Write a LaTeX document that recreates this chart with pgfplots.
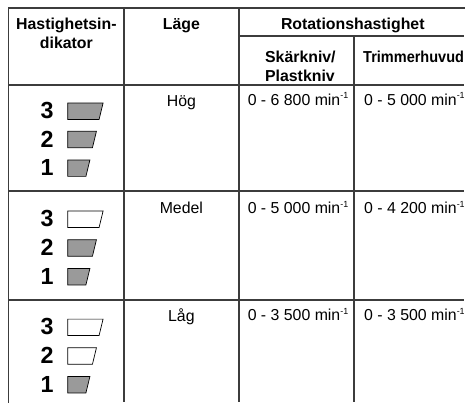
\documentclass[border=0pt]{standalone}
\usepackage{fontspec}
\setmainfont{Liberation Sans}
\usepackage{graphicx}
\usepackage{pgfplots}
\pgfplotsset{compat=1.18}
\definecolor{rule}{HTML}{3C3C3C}
\definecolor{ind}{HTML}{9A9A9A}
\definecolor{txt}{HTML}{1E1E1E}
\newcommand{\tf}{\fontsize{16}{18}\selectfont}
\newcommand{\df}{\fontsize{23.5}{26}\selectfont\bfseries}
\newcommand{\mn}{min\raisebox{6.2pt}{\fontsize{9}{10}\selectfont -1}}
\begin{document}
\begin{tikzpicture}
\begin{axis}[
  width=468pt, height=406pt, scale only axis,
  xmin=0, xmax=468, ymin=0, ymax=406, y dir=reverse,
  hide axis, clip=false,
  every node/.style={text=txt, inner sep=0pt, outer sep=0pt},
]
% background
\addplot[draw=none, fill=white] coordinates {(0,0) (468,0) (468,406) (0,406)} --cycle;
% table rules
\addplot[rule, line width=1.7pt, line cap=rect] coordinates {(8.7,8) (468,8)};
\addplot[rule, line width=1.7pt] coordinates {(241,36) (468,36)};
\addplot[rule, line width=1.7pt] coordinates {(8.7,85.5) (468,85.5)};
\addplot[rule, line width=1.7pt] coordinates {(8.7,193) (468,193)};
\addplot[rule, line width=1.7pt] coordinates {(8.7,303) (468,303)};
\addplot[rule, line width=1.7pt, line cap=rect] coordinates {(8.7,8) (8.7,406)};
\addplot[rule, line width=1.7pt] coordinates {(125,8) (125,406)};
\addplot[rule, line width=1.7pt] coordinates {(241,8) (241,406)};
\addplot[rule, line width=1.7pt] coordinates {(357,36) (357,406)};
% header text
\node[anchor=base, font=\tf\bfseries] at (axis cs:67,30) {Hastighetsin-};
\node[anchor=base, font=\tf\bfseries] at (axis cs:67,49) {dikator};
\node[anchor=base, font=\tf\bfseries] at (axis cs:183,30) {Läge};
\node[anchor=base, font=\tf\bfseries] at (axis cs:356,29.5) {Rotationshastighet};
\node[anchor=base west, font=\tf\bfseries] at (axis cs:264,63.5) {Skärkniv/};
\node[anchor=base west, font=\tf\bfseries] at (axis cs:264,82) {Plastkniv};
\node[anchor=base west, font=\tf\bfseries] at (axis cs:363,63.5) {\scalebox{0.915}[1]{Trimmerhuvud}};
% mode
\node[anchor=base, font=\tf] at (axis cs:183,107) {Hög};
\node[anchor=base, font=\tf] at (axis cs:183,215.5) {Medel};
\node[anchor=base, font=\tf] at (axis cs:183,324.5) {Låg};
% values
\node[anchor=base west, font=\tf] at (axis cs:246.5,106) {0 - 6 800 \mn};
\node[anchor=base west, font=\tf] at (axis cs:364,106) {0 - 5 000 \mn};
\node[anchor=base west, font=\tf] at (axis cs:246.5,215.5) {0 - 5 000 \mn};
\node[anchor=base west, font=\tf] at (axis cs:364,215.5) {0 - 4 200 \mn};
\node[anchor=base west, font=\tf] at (axis cs:246.5,323.5) {0 - 3 500 \mn};
\node[anchor=base west, font=\tf] at (axis cs:364,323.5) {0 - 3 500 \mn};
% digits
\node[anchor=base, font=\df] at (axis cs:47.5,120) {3};
\node[anchor=base, font=\df] at (axis cs:47.5,148.5) {2};
\node[anchor=base, font=\df] at (axis cs:47.5,177.5) {1};
\node[anchor=base, font=\df] at (axis cs:47.5,229) {3};
\node[anchor=base, font=\df] at (axis cs:47.5,258) {2};
\node[anchor=base, font=\df] at (axis cs:47.5,287) {1};
\node[anchor=base, font=\df] at (axis cs:47.5,338) {3};
\node[anchor=base, font=\df] at (axis cs:47.5,367) {2};
\node[anchor=base, font=\df] at (axis cs:47.5,396) {1};
% indicator shapes: row Hög
\addplot[draw=black, line width=0.7pt, fill=ind] coordinates {(68.3,104) (104,104) (100,120.5) (68.3,120.5)} --cycle;
\addplot[draw=black, line width=0.7pt, fill=ind] coordinates {(68.3,132.5) (97.3,132.5) (93.3,149) (68.3,149)} --cycle;
\addplot[draw=black, line width=0.7pt, fill=ind] coordinates {(68.3,161.5) (90.7,161.5) (86.7,178) (68.3,178)} --cycle;
% row Medel
\addplot[draw=black, line width=0.7pt, fill=white] coordinates {(68.3,213) (104,213) (100,229.5) (68.3,229.5)} --cycle;
\addplot[draw=black, line width=0.7pt, fill=ind] coordinates {(68.3,242) (97.3,242) (93.3,258.5) (68.3,258.5)} --cycle;
\addplot[draw=black, line width=0.7pt, fill=ind] coordinates {(68.3,271) (90.7,271) (86.7,287.5) (68.3,287.5)} --cycle;
% row Låg
\addplot[draw=black, line width=0.7pt, fill=white] coordinates {(68.3,322) (104,322) (100,338.5) (68.3,338.5)} --cycle;
\addplot[draw=black, line width=0.7pt, fill=white] coordinates {(68.3,351) (97.3,351) (93.3,367.5) (68.3,367.5)} --cycle;
\addplot[draw=black, line width=0.7pt, fill=ind] coordinates {(68.3,380) (90.7,380) (86.7,396.5) (68.3,396.5)} --cycle;
\end{axis}
\end{tikzpicture}
\end{document}
